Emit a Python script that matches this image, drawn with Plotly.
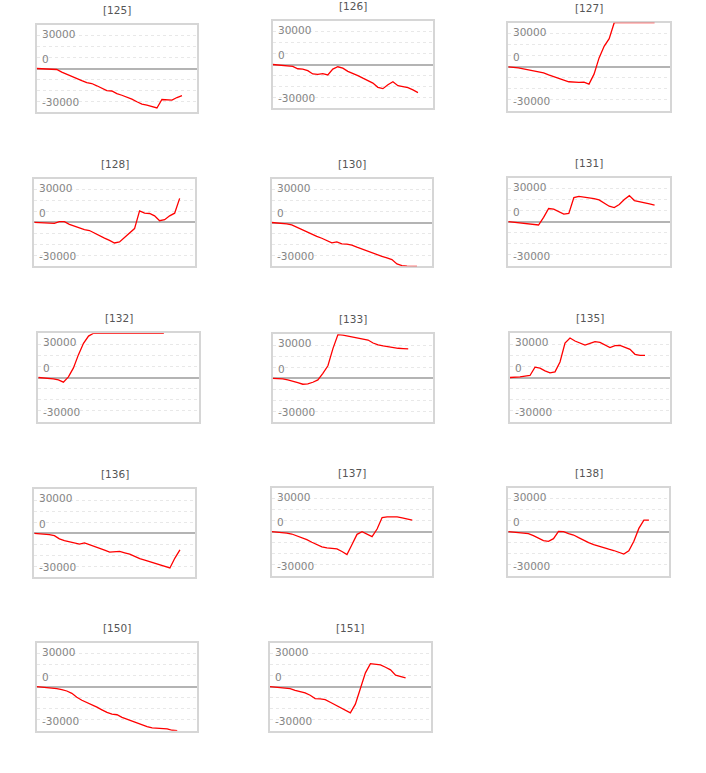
import plotly.graph_objects as go

# ---------------- data ----------------
titles = ["[125]", "[126]", "[127]", "[128]", "[130]", "[131]", "[132]",
          "[133]", "[135]", "[136]", "[137]", "[138]", "[150]", "[151]"]

s125 = [0, -300, -300, -600, -900, -3300, -5400, -7500, -9300, -11100, -12900, -13800,
        -15900, -18000, -20400, -20700, -23100, -24600, -26100, -28200, -30600, -32700,
        -33600, -35100, -36300, -28500, -28800, -29100, -26700, -24900]
s126 = [0, -300, -600, -1200, -1800, -3900, -4200, -5700, -8700, -9000, -8400, -9600,
        -4200, -2100, -3300, -6300, -8100, -10200, -12600, -14700, -17100, -21000,
        -22200, -18600, -15900, -19500, -20400, -21300, -23400, -25800]
s127 = [0, -300, -900, -1800, -2700, -3900, -4500, -5400, -7200, -9000, -10200, -12000,
        -13500, -14100, -14100, -13800, -15600, -6600, 8100, 18600, 25500, 40000,
        40000, 40000, 40000, 40000, 40000, 40000, 40000, 40000]
s128 = [0, -300, -300, -600, -900, 600, 600, -1800, -3600, -5100, -6600, -7500,
        -9900, -12600, -14400, -16500, -18900, -18000, -13800, -9900, -5700, 10500,
        8400, 8100, 6000, 1500, 2400, 6000, 8400, 22000]
s130 = [0, -300, -600, -1200, -2100, -4200, -6600, -9000, -11100, -12600, -14400, -16200,
        -18600, -17700, -19500, -19800, -20700, -22500, -24300, -26100, -27900, -29400,
        -30900, -32400, -33900, -37800, -39300, -39900, -40000, -40000]
s131 = [0, -600, -900, -1500, -2100, -2700, -3000, 3900, 12000, 11400, 9000, 6900,
        7500, 21900, 23100, 22500, 21900, 21000, 19800, 17100, 14100, 12900,
        15600, 20100, 23700, 19200, 18300, 17700, 16200, 15000]
s132 = [0, -300, -600, -1200, -2100, -4200, 600, 8700, 20700, 30900, 37500, 40000,
        40000, 40000, 40000, 40000, 40000, 40000, 40000, 40000, 40000, 40000,
        40000, 40000, 40000, 40000]
s133 = [0, 0, -600, -1500, -2400, -3900, -5400, -5100, -3600, -1500, 4500, 11400,
        27000, 39700, 39300, 38400, 37200, 36300, 35700, 34800, 32100, 30300,
        29400, 28500, 27600, 27300, 27000, 26700]
s135 = [0, 0, 600, 1200, 1800, 9300, 8400, 6000, 4200, 5100, 14100, 31200,
        35700, 33000, 31200, 29400, 30900, 32400, 31800, 29400, 27000, 28800,
        29100, 27300, 25500, 21000, 20100, 20100]
s136 = [0, -300, -600, -1200, -2100, -5100, -6600, -7800, -9000, -9900, -8700, -10200,
        -11700, -13500, -15300, -17100, -16500, -16500, -17700, -18900, -21000, -23100,
        -24300, -25800, -27300, -28800, -30300, -31500, -22500, -15000]
s137 = [0, -300, -600, -1200, -2100, -3600, -5100, -7200, -9600, -11700, -13800, -14700,
        -15300, -15600, -18000, -20700, -11700, -2400, 0, -2400, -4500, 2400,
        12900, 13500, 13500, 13500, 12600, 11400, 10500]
s138 = [0, -300, -600, -1200, -1800, -3600, -5700, -8100, -8700, -6300, 300, 0,
        -1800, -3000, -5400, -7800, -9900, -11700, -13200, -15000, -15900, -17100,
        -18600, -20400, -17400, -8700, 3000, 10500, 10500]
s150 = [0, -300, -600, -1200, -1800, -2700, -3900, -6000, -9600, -12300, -14400, -15900,
        -18600, -21000, -23400, -24900, -25500, -27900, -29700, -31500, -33300, -35100,
        -36300, -37500, -37800, -38100, -38400, -39600, -40000]
s151 = [0, -300, -600, -1200, -1800, -3300, -4200, -5700, -7800, -10800, -11100, -11700,
        -14100, -16500, -18900, -21300, -23700, -15900, -1500, 12600, 21000, 20400,
        19800, 17700, 15300, 10500, 9000, 8100]

series = [s125, s126, s127, s128, s130, s131, s132, s133, s135, s136, s137, s138, s150, s151]

tick_text = ["30000", "0", "-30000"]
tick_label_pos = [31800, 8800, -30900]

# ---------------- layout (pixel boxes of each small panel, window coords) ----------------
W, H = 706, 773
boxes = [
    (35.7, 198.0, 24.0, 113.0),
    (271.7, 434.0, 20.0, 109.0),
    (507.3, 670.7, 21.7, 112.0),
    (33.3, 195.7, 177.7, 267.0),
    (270.7, 433.0, 177.7, 267.3),
    (507.3, 670.7, 176.7, 266.7),
    (37.3, 200.0, 332.3, 422.7),
    (271.7, 434.3, 333.3, 423.3),
    (509.0, 671.0, 332.3, 422.7),
    (33.3, 196.0, 488.3, 578.3),
    (270.7, 433.3, 486.7, 576.7),
    (507.3, 670.0, 486.7, 576.7),
    (35.7, 198.3, 641.7, 731.7),
    (269.0, 431.7, 641.7, 731.7),
]

FONT = "DejaVu Sans, Verdana, sans-serif"
BORDER = "#d6d6d6"

fig = go.Figure()
layout = {}
annotations = []
for i, (title, vals, box) in enumerate(zip(titles, series, boxes), start=1):
    sfx = "" if i == 1 else str(i)
    xa, ya = "x" + sfx, "y" + sfx
    x0, x1, y0, y1 = box
    x0 += 1; x1 -= 1; y0 += 1; y1 -= 1
    fig.add_trace(go.Scatter(
        x=list(range(len(vals))), y=vals, mode="lines",
        line=dict(color="#ff0000", width=1.3),
        xaxis=xa, yaxis=ya, showlegend=False, hoverinfo="skip"))
    layout["xaxis" + sfx] = dict(
        domain=[x0 / W, x1 / W], range=[0, 32], anchor=ya,
        showgrid=False, zeroline=False, showticklabels=False, ticks="",
        showline=True, mirror=True, linecolor=BORDER, linewidth=2,
        layer="below traces", fixedrange=True)
    layout["yaxis" + sfx] = dict(
        domain=[1 - y1 / H, 1 - y0 / H], range=[-40000, 40000], anchor=xa,
        tick0=0, dtick=10000, showgrid=True, gridcolor="#e8e8e8", griddash="dot",
        gridwidth=1, zeroline=True, zerolinecolor="#b4b4b4", zerolinewidth=2,
        showticklabels=False, ticks="",
        showline=True, mirror=True, linecolor=BORDER, linewidth=2,
        layer="below traces", fixedrange=True)
    # title
    annotations.append(dict(
        text=title, xref="paper", yref="paper",
        x=(x0 + x1) / 2 / W, y=1 - (y0 - 15) / H,
        xanchor="center", yanchor="middle", showarrow=False,
        font=dict(family=FONT, size=10.5, color="#555555")))
    # inside tick labels
    for txt, pos in zip(tick_text, tick_label_pos):
        annotations.append(dict(
            text=txt, xref=xa + " domain", yref=ya, x=0, y=pos,
            xanchor="left", yanchor="middle", xshift=3, showarrow=False,
            font=dict(family=FONT, size=10.5, color="#858585")))

fig.update_layout(
    width=W, height=H, autosize=False,
    margin=dict(l=0, r=0, t=0, b=0),
    paper_bgcolor="white", plot_bgcolor="white",
    hovermode=False,
    annotations=annotations, **layout)

fig.write_html("out.html",
               config={"displayModeBar": False, "staticPlot": True},
               post_script="document.body.style.margin='0';"
                           "document.body.style.overflow='hidden';")
